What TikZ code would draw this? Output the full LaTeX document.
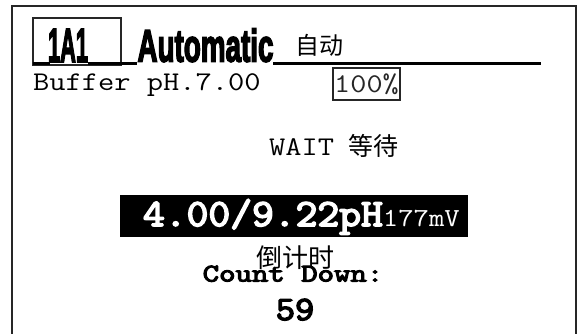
\documentclass[tikz,border=0pt]{standalone}
\usepackage{fontspec}
\usepackage{graphicx}
\newfontfamily\cjkfont{Noto Sans CJK SC}
\newfontfamily\heavyfont{Liberation Sans Bold}[FakeBold=4]
\newfontfamily\monobold{Latin Modern Mono}[FakeBold=4]
\newcommand\monotxt[3]{\scalebox{#2}[1]{\fontsize{#1}{#1}\selectfont\ttfamily #3}}
\newcommand\monobtxt[3]{\scalebox{#2}[1]{\fontsize{#1}{#1}\selectfont\monobold #3}}
\begin{document}
\begin{tikzpicture}[x=1pt,y=-1pt,
  every node/.style={inner sep=0pt, outer sep=0pt},
  frameline/.style={line width=2pt, black!85},
  uline/.style={line width=3pt, black},
  boxline/.style={draw, line width=1.2pt, black!85}]
\useasboundingbox (0,0) rectangle (577,333);
\clip (0,0) rectangle (577,333);
\draw[frameline] (12,6) rectangle (576,360);
% title
\node[boxline, anchor=north west, minimum width=88pt, minimum height=47pt] (idbox) at (33,18) {};
\draw[uline] (33,63.5) -- (50,63.5);
\draw[uline] (88,63.5) -- (137,63.5);
\draw[uline] (273,63.5) -- (541,63.5);
\node[anchor=south west] (id) at (48,62) {\resizebox{40pt}{33pt}{\heavyfont 1A1}};
\node[anchor=south west] (auto) at (137.5,62) {\resizebox{136pt}{33pt}{\heavyfont Automatic}};
\node[anchor=center] (autocn) at (319,45.5) {\fontsize{24}{24}\selectfont\cjkfont 自动};
% buffer line
\node[anchor=base west] (buf) at (33,90.5) {\monotxt{27}{1.17}{Buffer pH.7.00}};
\node[boxline, minimum width=67pt, minimum height=32pt] (pct) at (366.5,84) {\monotxt{27}{1.16}{100\%}};
% wait
\node[anchor=base west] (wait) at (269,155) {\monotxt{27}{1.17}{WAIT}};
\node[anchor=base west] (waitcn) at (348,155) {\fontsize{25}{25}\selectfont\cjkfont 等待};
% value bar
\fill[black] (120,195) rectangle (468,237);
\node[anchor=base west, text=white] (val) at (143,226) {\monobtxt{38.5}{1.1}{4.00/9.22pH}};
\node[anchor=base west, text=white] (mv) at (val.base east) {\monotxt{26}{1.15}{177mV}};
% count down
\node[anchor=center] (cdcn) at (295,257.5) {\fontsize{26}{26}\selectfont\cjkfont 倒计时};
\node[anchor=base] (cd) at (293,281.5) {\monobtxt{25.5}{1.25}{Count Down:}};
\node[anchor=base] (num) at (295,320) {\monobtxt{34}{1.1}{59}};
\end{tikzpicture}
\end{document}
